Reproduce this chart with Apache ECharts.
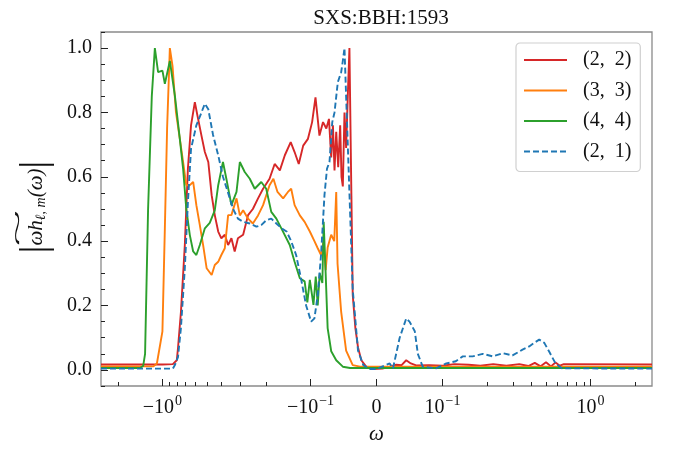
<!DOCTYPE html>
<html>
<head>
<meta charset="utf-8">
<script src="https://cdn.jsdelivr.net/npm/echarts@6/dist/echarts.min.js"></script>
<style>
  html, body { margin: 0; padding: 0; background: #fff; }
  #chart { width: 683px; height: 450px; }
</style>
</head>
<body>
<div id="chart"></div>
<script>
// mode names as shown in the legend
const modeNames = ['(2,  2)', '(3,  3)', '(4,  4)', '(2,  1)']

// (2, 2)
const omega22 = [-2.6, -1.0, -0.85, -0.8, -0.785, -0.75, -0.706, -0.673, -0.641, -0.604, -0.58, -0.545, -0.517, -0.49, -0.465, -0.443, -0.42, -0.40, -0.379, -0.36, -0.342, -0.325, -0.309, -0.285, -0.264, -0.245, -0.226, -0.209, -0.189, -0.1745, -0.161, -0.149, -0.136, -0.128, -0.12, -0.112, -0.104, -0.0975, -0.0924, -0.0864, -0.081, -0.076, -0.072, -0.0686, -0.066, -0.0636, -0.061, -0.058, -0.055, -0.053, -0.051, -0.0485, -0.046, -0.0435, -0.041, -0.038, -0.036, -0.032, -0.028, -0.023, -0.0156, -0.0056, 0.009, 0.02, 0.03, 0.038, 0.045, 0.052, 0.06, 0.08, 0.1, 0.12, 0.15, 0.18, 0.22, 0.27, 0.33, 0.38, 0.42, 0.46, 0.5, 0.54, 0.58, 0.62, 0.66, 2.6]
const amp22 = [0.017, 0.017, 0.018, 0.03, 0.068, 0.18, 0.388, 0.625, 0.76, 0.832, 0.79, 0.728, 0.677, 0.646, 0.543, 0.481, 0.43, 0.409, 0.42, 0.388, 0.409, 0.368, 0.409, 0.42, 0.481, 0.5, 0.533, 0.563, 0.594, 0.64, 0.62, 0.667, 0.708, 0.677, 0.64, 0.697, 0.718, 0.77, 0.847, 0.728, 0.77, 0.75, 0.78, 0.66, 0.76, 0.62, 0.74, 0.63, 0.76, 0.6, 0.57, 0.8, 0.69, 0.85, 1.0, 0.54, 0.233, 0.13, 0.07, 0.03, 0.01, 0.003, 0.004, 0.01, 0.016, 0.015, 0.03, 0.02, 0.014, 0.015, 0.013, 0.018, 0.016, 0.013, 0.018, 0.013, 0.018, 0.012, 0.022, 0.011, 0.024, 0.011, 0.023, 0.013, 0.018, 0.017]

// (3, 3)
const omega33 = [-2.6, -1.15, -1.09, -1.0, -0.963, -0.93, -0.891, -0.855, -0.81, -0.763, -0.725, -0.69, -0.653, -0.62, -0.59, -0.559, -0.531, -0.503, -0.465, -0.443, -0.42, -0.40, -0.379, -0.36, -0.342, -0.316, -0.30, -0.285, -0.264, -0.245, -0.226, -0.209, -0.189, -0.178, -0.167, -0.153, -0.142, -0.135, -0.128, -0.118, -0.1095, -0.101, -0.094, -0.089, -0.084, -0.08, -0.077, -0.074, -0.0686, -0.064, -0.061, -0.059, -0.0535, -0.046, -0.036, -0.025, 2.6]
const amp33 = [0.011, 0.011, 0.02, 0.12, 0.44, 0.75, 1.0, 0.945, 0.8, 0.718, 0.646, 0.574, 0.574, 0.584, 0.512, 0.45, 0.388, 0.316, 0.295, 0.326, 0.336, 0.357, 0.378, 0.481, 0.481, 0.533, 0.48, 0.496, 0.47, 0.455, 0.48, 0.512, 0.574, 0.594, 0.553, 0.533, 0.553, 0.563, 0.512, 0.48, 0.46, 0.43, 0.4, 0.378, 0.357, 0.4, 0.31, 0.38, 0.42, 0.4, 0.553, 0.33, 0.18, 0.06, 0.015, 0.01, 0.01]

// (4, 4)
const omega44 = [-2.6, -1.42, -1.35, -1.31, -1.25, -1.18, -1.125, -1.07, -1.0, -0.963, -0.891, -0.824, -0.763, -0.725, -0.69, -0.653, -0.62, -0.59, -0.559, -0.517, -0.479, -0.443, -0.42, -0.39, -0.37, -0.342, -0.316, -0.30, -0.278, -0.257, -0.238, -0.215, -0.199, -0.184, -0.17, -0.153, -0.138, -0.128, -0.118, -0.1095, -0.105, -0.101, -0.0955, -0.092, -0.089, -0.086, -0.082, -0.08, -0.077, -0.074, -0.0686, -0.061, -0.051, -0.04, 2.6]
const amp44 = [0.006, 0.006, 0.012, 0.05, 0.5, 0.85, 1.0, 0.925, 0.93, 0.889, 0.96, 0.852, 0.718, 0.625, 0.5, 0.419, 0.368, 0.357, 0.388, 0.44, 0.457, 0.496, 0.574, 0.646, 0.594, 0.512, 0.553, 0.646, 0.615, 0.594, 0.563, 0.584, 0.563, 0.491, 0.47, 0.429, 0.388, 0.336, 0.285, 0.275, 0.21, 0.28, 0.202, 0.29, 0.2, 0.3, 0.27, 0.46, 0.3, 0.13, 0.058, 0.03, 0.01, 0.006, 0.006]

// (2, 1)
const omega21 = [-2.6, -0.85, -0.824, -0.785, -0.75, -0.706, -0.673, -0.641, -0.59, -0.545, -0.517, -0.49, -0.455, -0.42, -0.39, -0.36, -0.333, -0.309, -0.285, -0.257, -0.232, -0.215, -0.199, -0.184, -0.17, -0.157, -0.145, -0.135, -0.125, -0.116, -0.107, -0.099, -0.094, -0.089, -0.084, -0.0788, -0.075, -0.0712, -0.067, -0.0636, -0.0586, -0.0535, -0.051, -0.0485, -0.046, -0.0435, -0.041, -0.036, -0.028, -0.02, -0.01, 0.0, 0.02, 0.025, 0.035, 0.045, 0.05, 0.058, 0.0626, 0.07, 0.09, 0.106, 0.123, 0.137, 0.16, 0.187, 0.218, 0.255, 0.297, 0.347, 0.385, 0.416, 0.45, 0.487, 0.525, 0.58, 0.64, 2.6]
const amp21 = [0.004, 0.004, 0.015, 0.04, 0.13, 0.316, 0.52, 0.687, 0.76, 0.8, 0.827, 0.81, 0.73, 0.667, 0.6, 0.55, 0.5, 0.47, 0.46, 0.455, 0.445, 0.45, 0.465, 0.47, 0.455, 0.44, 0.43, 0.4, 0.357, 0.285, 0.2, 0.15, 0.16, 0.233, 0.357, 0.543, 0.625, 0.646, 0.77, 0.8, 0.894, 0.925, 0.96, 1.0, 0.85, 0.7, 0.55, 0.25, 0.06, 0.015, 0.003, 0.003, 0.02, 0.005, 0.099, 0.16, 0.15, 0.12, 0.05, 0.01, 0.005, 0.02, 0.027, 0.042, 0.042, 0.05, 0.042, 0.052, 0.045, 0.063, 0.073, 0.084, 0.094, 0.084, 0.057, 0.02, 0.005, 0.004]

// axis ticks
const xTickOmega = [-1, -0.1, 0, 0.1, 1]
const xTickLabels = ['{b|\u221210}{sup|0}', '{b|\u221210}{sup|\u22121}', '{b|0}', '{b|10}{sup|\u22121}', '{b|10}{sup|0}']
const yTicks = [0, 0.2, 0.4, 0.6, 0.8, 1.0]

// symlog like matplotlib: linthresh 0.1, linear part is LS decades wide
const LT = 0.1
const LS = 0.446
const symlog = (w) => {
  const a = Math.abs(w)
  const v = a <= LT ? (a / LT) * LS : LS + Math.log10(a / LT)
  return Math.sign(w) * v
}

const X_LIM = symlog(2.6)
const xMinor = []
;[0.2, 0.3, 0.4, 0.5, 0.6, 0.7, 0.8, 0.9, 2, 3].forEach((w) => {
  if (symlog(w) < X_LIM) xMinor.push(symlog(w), -symlog(w))
})
const yMinor = []
for (let i = -1; i <= 21; i++) if (i % 4 !== 0) yMinor.push(i * 0.05)

const FONT = 'Liberation Serif'
const colors = ['#d62728', '#ff7f0e', '#2ca02c', '#1f77b4']
const omegas = [omega22, omega33, omega44, omega21]
const amps = [amp22, amp33, amp44, amp21]

const chart = echarts.init(document.getElementById('chart'), null, {renderer: 'canvas'})

const series = modeNames.map((name, i) => ({
  name,
  type: 'line',
  symbol: 'none',
  showSymbol: false,
  animation: false,
  color: colors[i],
  lineStyle: {width: 1.9, color: colors[i], type: i === 3 ? [6, 3] : 'solid'},
  data: omegas[i].map((w, k) => [symlog(w), amps[i][k]]),
}))

const tickStyle = {color: '#222', width: 1}

chart.setOption({
  animation: false,
  title: {
    text: 'SXS:BBH:1593',
    left: 376,
    textAlign: 'center',
    top: 3,
    textStyle: {fontFamily: FONT, fontSize: 21, fontWeight: 'normal', color: '#111'},
  },
  grid: {
    left: 101, right: 31, top: 32, bottom: 61,
    show: true, borderColor: '#8a8a8a', borderWidth: 1.3, backgroundColor: 'transparent',
  },
  legend: {
    left: 516, top: 43,
    orient: 'vertical',
    data: modeNames,
    itemWidth: 43, itemHeight: 22, itemGap: 8.5,
    padding: [6, 9, 9, 7],
    backgroundColor: '#fff',
    borderColor: '#d0d0d0', borderWidth: 1.2, borderRadius: 4,
    itemStyle: {opacity: 0},
    textStyle: {fontFamily: FONT, fontSize: 20, color: '#111', padding: [0, 0, 0, 11], lineHeight: 22},
  },
  xAxis: [
    {
      type: 'value', min: -X_LIM, max: X_LIM,
      name: '\u03c9', nameLocation: 'middle', nameGap: 38,
      nameTextStyle: {fontFamily: FONT, fontSize: 21, fontStyle: 'italic', color: '#111'},
      axisLine: {show: false, onZero: false},
      splitLine: {show: false},
      axisTick: {show: true, inside: true, length: 7, lineStyle: tickStyle, customValues: xTickOmega.map(symlog)},
      axisLabel: {
        margin: 8,
        customValues: xTickOmega.map(symlog),
        formatter: (v) => {
          const i = xTickOmega.findIndex((w) => Math.abs(symlog(w) - v) < 1e-6)
          return i < 0 ? '' : xTickLabels[i]
        },
        rich: {
          b: {fontFamily: FONT, fontSize: 20, color: '#111', lineHeight: 24, verticalAlign: 'bottom'},
          sup: {fontFamily: FONT, fontSize: 14, color: '#111', lineHeight: 24, verticalAlign: 'top', padding: [0, 0, 9, 1]},
        },
      },
    },
    {
      type: 'value', min: -X_LIM, max: X_LIM, position: 'bottom',
      axisLine: {show: false, onZero: false},
      splitLine: {show: false},
      axisLabel: {show: false},
      axisTick: {show: true, inside: true, length: 4, lineStyle: tickStyle, customValues: xMinor},
    },
  ],
  yAxis: [
    {
      type: 'value', min: -0.05, max: 1.05,
      axisLine: {show: false, onZero: false},
      splitLine: {show: false},
      axisTick: {show: true, inside: true, length: 7, lineStyle: tickStyle, customValues: yTicks},
      axisLabel: {
        margin: 9,
        customValues: yTicks,
        formatter: (v) => v.toFixed(1),
        fontFamily: FONT, fontSize: 20, color: '#111',
      },
    },
    {
      type: 'value', min: -0.05, max: 1.05, position: 'left',
      axisLine: {show: false, onZero: false},
      splitLine: {show: false},
      axisLabel: {show: false},
      axisTick: {show: true, inside: true, length: 4, lineStyle: tickStyle, customValues: yMinor},
    },
  ],
  graphic: [
    {
      type: 'group',
      x: 36, y: 207,
      rotation: Math.PI / 2,
      silent: true,
      children: [
        {
          type: 'text',
          x: 0, y: 0,
          style: {
            text: '{bar||}{t|\u03c9h}{s|\u2113, m}{t|(\u03c9)}{bar||}',
            align: 'center',
            verticalAlign: 'middle',
            fill: '#111',
            rich: {
              bar: {fontFamily: FONT, fontSize: 38, fill: '#111'},
              t: {fontFamily: FONT, fontSize: 21, fontStyle: 'italic', fill: '#111'},
              s: {fontFamily: FONT, fontSize: 14, fontStyle: 'italic', fill: '#111', padding: [10, 0, 0, 0]},
            },
          },
        },
        {
          type: 'text',
          x: -21, y: -17,
          scaleX: 3.4, scaleY: 1,
          style: {
            text: '~',
            align: 'center',
            verticalAlign: 'middle',
            fill: '#111',
            fontFamily: FONT, fontSize: 20,
          },
        },
      ],
    },
  ],
  series,
})
</script>
</body>
</html>
